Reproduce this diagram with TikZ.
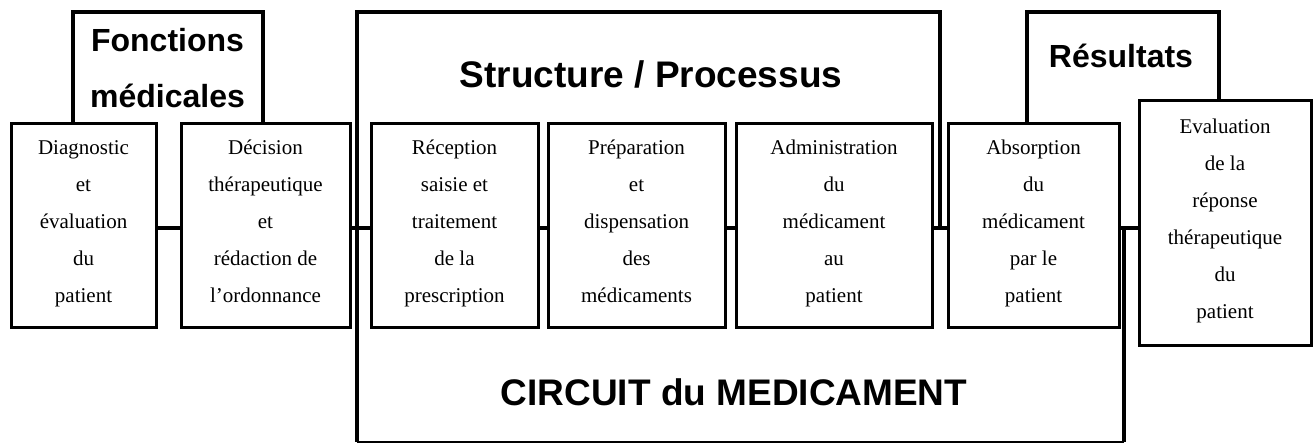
\documentclass[tikz,border=0pt]{standalone}
\usepackage{fontspec}
\setmainfont{Liberation Serif}
\newfontfamily\myheadfont{Liberation Sans}
\newcommand\mybxfont{\fontsize{21}{37}\selectfont}
\newcommand\mybxstrut{\rule[-7pt]{0pt}{24pt}}
\begin{document}
\begin{tikzpicture}[x=1pt,y=-1pt,
  box/.style={draw, line width=3pt, fill=white, inner sep=0pt, align=center, font=\mybxfont,
    execute at begin node={\mybxstrut}, execute at end node={\mybxstrut}},
  outline/.style={line width=4.5pt, line join=miter},
  conn/.style={line width=4.5pt},
  head/.style={font=\myheadfont\bfseries\fontsize{32}{38}\selectfont, anchor=base, inner sep=0pt},
  bighead/.style={font=\myheadfont\bfseries\fontsize{37}{44}\selectfont, anchor=base, inner sep=0pt}]
\useasboundingbox (0,0) rectangle (1316,444);

% outlines
\draw[outline] (73,123) -- (73,12) -- (263,12) -- (263,123);
\draw[outline] (1027,123) -- (1027,12) -- (1219,12) -- (1219,100);
\draw[outline] (940,228) -- (940,12) -- (357,12) -- (357,442);
\draw[line width=1.3pt] (357,442) -- (1124,442);
\draw[outline] (1124,442) -- (1124,228);

% headings
\node[head] (fon1) at (167.5,52) {Fonctions};
\node[head] (fon2) at (167.5,107) {médicales};
\node[head] (res) at (1121,67) {Résultats};
\node[bighead] (sp) at (651,88) {Structure / Processus};
\node[bighead] (cm) at (734,405) {CIRCUIT du MEDICAMENT};

% boxes
\node[box, minimum width=145pt, minimum height=204pt] (diag) at (83.5,225) {Diagnostic\\et\\évaluation\\du\\patient};
\node[box, minimum width=169pt, minimum height=204pt] (deci) at (265.5,225) {Décision\\thérapeutique\\et\\ rédaction de\\l’ordonnance};
\node[box, minimum width=167pt, minimum height=204pt] (recep) at (454.5,225) {Réception\\saisie et\\traitement\\de la\\prescription};
\node[box, minimum width=177pt, minimum height=204pt] (prep) at (636.5,225) {Préparation\\et\\dispensation\\des\\médicaments};
\node[box, minimum width=196pt, minimum height=204pt] (admin) at (834,225) {Administration\\du\\médicament\\au\\patient};
\node[box, minimum width=171pt, minimum height=204pt] (absorp) at (1033.5,225) {Absorption\\du\\médicament\\par le\\patient};
\node[box, minimum width=172pt, minimum height=245pt] (eval) at (1225,222.5) {Evaluation\\de la\\réponse\\thérapeutique\\du\\patient};

% connectors
\coordinate (cy) at (0,228);
\draw[conn] (diag.east |- cy) -- (deci.west |- cy);
\draw[conn] (deci.east |- cy) -- (recep.west |- cy);
\draw[conn] (recep.east |- cy) -- (prep.west |- cy);
\draw[conn] (prep.east |- cy) -- (admin.west |- cy);
\draw[conn] (admin.east |- cy) -- (absorp.west |- cy);
\draw[conn] (absorp.east |- cy) -- (eval.west |- cy);
\end{tikzpicture}
\end{document}
